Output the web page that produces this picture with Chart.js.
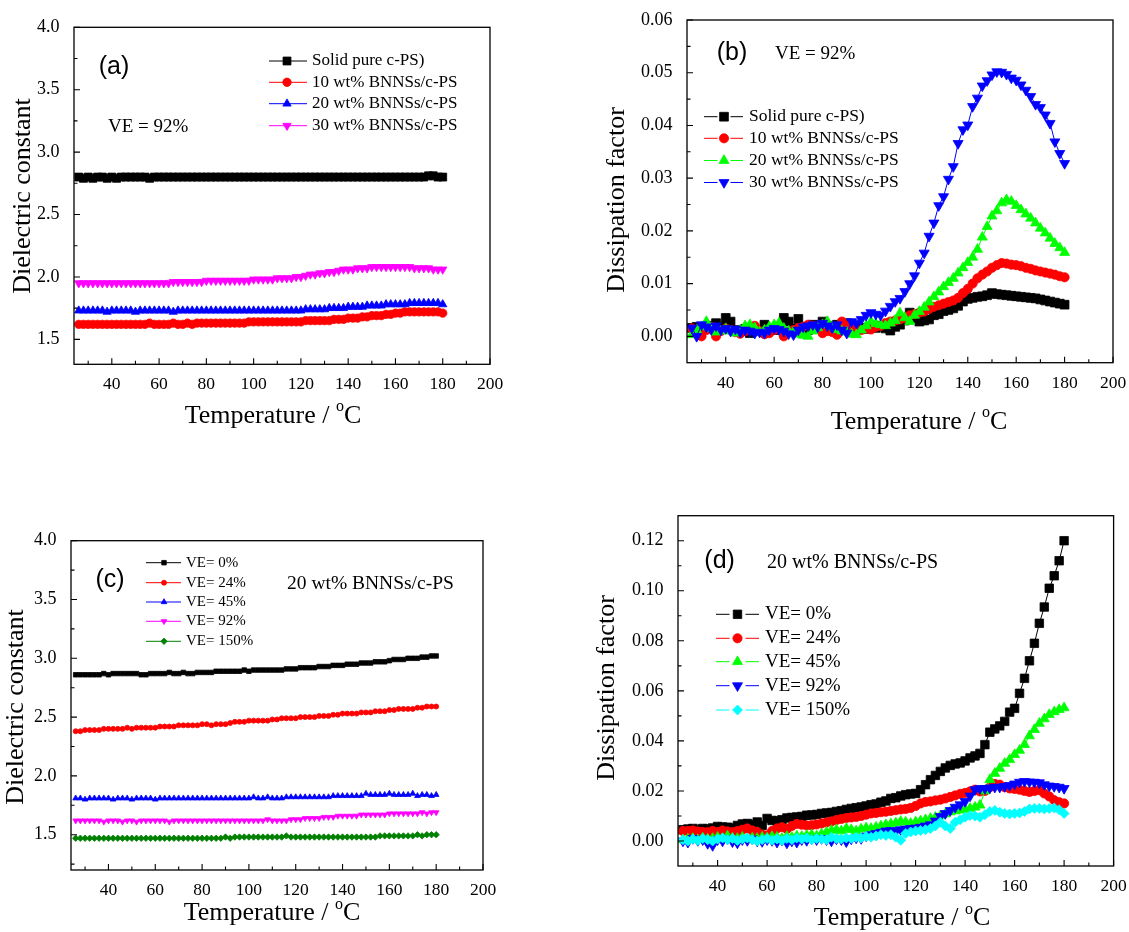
<!DOCTYPE html>
<html lang="en">
<head>
<meta charset="utf-8">
<title>Dielectric constant and dissipation factor vs temperature</title>
<script src="https://cdn.jsdelivr.net/npm/chart.js@4.4.1/dist/chart.umd.min.js"></script>
<style>
html,body{margin:0;padding:0;background:#ffffff;}
#page{position:relative;width:1129px;height:932px;overflow:hidden;background:#fff;}
#page canvas{position:absolute;display:block;}
</style>
</head>
<body>
<div id="page">
<canvas id="panelA"></canvas>
<canvas id="panelB"></canvas>
<canvas id="panelC"></canvas>
<canvas id="panelD"></canvas>
</div>
<script>
// ---------- categories (temperature, °C) ----------
const temperatures = [26,28,30,32,34,36,38,40,42,44,46,48,50,52,54,56,58,60,62,64,
  66,68,70,72,74,76,78,80,82,84,86,88,90,92,94,96,98,100,102,104,
  106,108,110,112,114,116,118,120,122,124,126,128,130,132,134,136,138,140,142,144,
  146,148,150,152,154,156,158,160,162,164,166,168,170,172,174,176,178,180];

// ---------- tick labels ----------
const tempTicks = [40,60,80,100,120,140,160,180,200];
const tempMinor = [30,50,70,90,110,130,150,170,190];
const dielTicksA = [1.5,2.0,2.5,3.0,3.5,4.0];
const dielMinorA = [1.75,2.25,2.75,3.25,3.75];
const dissTicksB = [0.00,0.01,0.02,0.03,0.04,0.05,0.06];
const dissMinorB = [0.005,0.015,0.025,0.035,0.045,0.055];
const dielTicksC = [1.5,2.0,2.5,3.0,3.5,4.0];
const dielMinorC = [1.25,1.75,2.25,2.75,3.25,3.75];
const dissTicksD = [0.00,0.02,0.04,0.06,0.08,0.10,0.12];
const dissMinorD = [0.01,0.03,0.05,0.07,0.09,0.11];

// ---------- panel (a): dielectric constant, VE = 92% ----------
const aSolidPure = [2.80,2.79,2.80,2.79,2.80,2.80,2.79,2.80,2.79,2.80,
  2.80,2.80,2.80,2.80,2.80,2.79,2.80,2.80,2.80,2.80,
  2.80,2.80,2.80,2.80,2.80,2.80,2.80,2.80,2.80,2.80,
  2.80,2.80,2.80,2.80,2.80,2.80,2.80,2.80,2.80,2.80,
  2.80,2.80,2.80,2.80,2.80,2.80,2.80,2.80,2.80,2.80,
  2.80,2.80,2.80,2.80,2.80,2.80,2.80,2.80,2.80,2.80,
  2.80,2.80,2.80,2.80,2.80,2.80,2.80,2.80,2.80,2.80,
  2.80,2.80,2.80,2.80,2.81,2.81,2.80,2.80];
const a10wt = [1.62,1.62,1.62,1.62,1.62,1.62,1.62,1.62,1.62,1.62,
  1.62,1.62,1.62,1.62,1.62,1.63,1.62,1.62,1.62,1.62,
  1.63,1.62,1.62,1.63,1.62,1.63,1.63,1.63,1.63,1.63,
  1.63,1.63,1.63,1.63,1.63,1.63,1.64,1.64,1.64,1.64,
  1.64,1.64,1.64,1.64,1.64,1.64,1.64,1.64,1.65,1.65,
  1.65,1.65,1.65,1.65,1.66,1.66,1.66,1.67,1.67,1.67,
  1.68,1.68,1.69,1.69,1.69,1.70,1.70,1.71,1.71,1.72,
  1.72,1.72,1.72,1.72,1.72,1.72,1.72,1.71];
const a20wt = [1.73,1.73,1.73,1.73,1.73,1.73,1.72,1.73,1.73,1.73,
  1.73,1.73,1.72,1.73,1.73,1.73,1.73,1.73,1.73,1.73,
  1.72,1.73,1.73,1.73,1.73,1.73,1.73,1.73,1.73,1.73,
  1.73,1.73,1.73,1.73,1.73,1.73,1.73,1.73,1.73,1.73,
  1.73,1.73,1.73,1.73,1.73,1.73,1.73,1.73,1.74,1.74,
  1.74,1.74,1.74,1.75,1.75,1.75,1.75,1.76,1.76,1.76,
  1.76,1.77,1.77,1.77,1.77,1.78,1.78,1.78,1.78,1.78,
  1.79,1.79,1.79,1.79,1.79,1.79,1.79,1.78];
const a30wt = [1.95,1.95,1.95,1.95,1.95,1.95,1.95,1.95,1.95,1.95,
  1.95,1.95,1.95,1.95,1.95,1.95,1.95,1.95,1.95,1.95,
  1.96,1.96,1.96,1.96,1.96,1.96,1.96,1.97,1.97,1.97,
  1.97,1.97,1.97,1.97,1.97,1.97,1.97,1.98,1.98,1.98,
  1.98,1.98,1.99,1.99,1.99,1.99,2.00,2.00,2.01,2.02,
  2.02,2.03,2.03,2.04,2.04,2.05,2.06,2.06,2.06,2.07,
  2.07,2.07,2.08,2.08,2.08,2.08,2.08,2.08,2.08,2.08,
  2.08,2.07,2.07,2.07,2.07,2.06,2.06,2.06];

// ---------- panel (b): dissipation factor, VE = 92% ----------
const bSolidPure = [0.0016,0.0018,0.0012,0.0015,0.0020,0.0025,0.0018,0.0035,0.0028,0.0012,
  0.0010,0.0014,0.0006,0.0012,0.0010,0.0022,0.0015,0.0012,0.0018,0.0035,
  0.0028,0.0015,0.0033,0.0018,0.0012,0.0022,0.0016,0.0028,0.0020,0.0015,
  0.0022,0.0018,0.0025,0.0020,0.0015,0.0016,0.0014,0.0018,0.0016,0.0020,
  0.0015,0.0011,0.0018,0.0022,0.0030,0.0045,0.0035,0.0028,0.0030,0.0032,
  0.0040,0.0042,0.0048,0.0050,0.0053,0.0058,0.0066,0.0071,0.0073,0.0075,
  0.0076,0.0078,0.0082,0.0080,0.0079,0.0078,0.0077,0.0076,0.0075,0.0074,
  0.0073,0.0072,0.0070,0.0068,0.0066,0.0064,0.0062,0.0060];
const b10wt = [0.0015,0.0008,0.0000,0.0012,0.0018,0.0000,0.0010,0.0015,0.0012,0.0008,
  0.0005,0.0010,0.0016,0.0020,0.0010,0.0004,0.0006,0.0012,0.0015,0.0000,
  0.0008,0.0012,0.0016,0.0018,0.0022,0.0020,0.0015,0.0006,0.0010,0.0008,
  0.0003,0.0028,0.0020,0.0016,0.0010,0.0012,0.0015,0.0013,0.0018,0.0020,
  0.0025,0.0028,0.0030,0.0032,0.0035,0.0040,0.0042,0.0045,0.0047,0.0052,
  0.0056,0.0059,0.0062,0.0065,0.0068,0.0073,0.0082,0.0090,0.0100,0.0110,
  0.0117,0.0123,0.0130,0.0135,0.0139,0.0138,0.0136,0.0135,0.0133,0.0130,
  0.0128,0.0125,0.0123,0.0121,0.0119,0.0117,0.0114,0.0112];
const b20wt = [0.0003,0.0012,0.0018,0.0028,0.0015,0.0008,0.0010,0.0014,0.0010,0.0006,
  0.0012,0.0020,0.0022,0.0016,0.0008,0.0012,0.0018,0.0022,0.0025,0.0015,
  0.0010,0.0008,0.0004,0.0002,0.0000,0.0010,0.0016,0.0022,0.0028,0.0018,
  0.0013,0.0010,0.0008,0.0004,0.0003,0.0012,0.0020,0.0028,0.0024,0.0022,
  0.0020,0.0025,0.0030,0.0044,0.0035,0.0028,0.0040,0.0047,0.0055,0.0065,
  0.0075,0.0084,0.0094,0.0102,0.0110,0.0120,0.0130,0.0140,0.0150,0.0165,
  0.0188,0.0208,0.0228,0.0238,0.0253,0.0259,0.0256,0.0248,0.0240,0.0232,
  0.0224,0.0215,0.0205,0.0196,0.0186,0.0176,0.0168,0.0159];
const b30wt = [0.0016,0.0000,0.0022,0.0018,0.0013,0.0020,0.0012,0.0015,0.0010,0.0014,
  0.0008,0.0012,0.0010,0.0006,0.0008,0.0006,0.0012,0.0015,0.0013,0.0010,
  0.0005,0.0003,0.0012,0.0018,0.0020,0.0022,0.0018,0.0025,0.0020,0.0016,
  0.0022,0.0012,0.0006,0.0028,0.0025,0.0032,0.0040,0.0045,0.0042,0.0040,
  0.0048,0.0057,0.0066,0.0072,0.0085,0.0100,0.0115,0.0139,0.0158,0.0190,
  0.0215,0.0248,0.0265,0.0298,0.0322,0.0366,0.0392,0.0401,0.0436,0.0452,
  0.0475,0.0485,0.0496,0.0502,0.0501,0.0497,0.0490,0.0486,0.0477,0.0467,
  0.0455,0.0440,0.0434,0.0420,0.0404,0.0369,0.0347,0.0328];

// ---------- panel (c): dielectric constant, 20 wt% BNNSs/c-PS ----------
const cVE0 = [2.86,2.86,2.86,2.86,2.86,2.86,2.87,2.86,2.87,2.87,
  2.87,2.87,2.87,2.87,2.86,2.86,2.87,2.87,2.87,2.87,
  2.88,2.87,2.87,2.88,2.87,2.87,2.88,2.88,2.88,2.88,
  2.89,2.89,2.89,2.89,2.89,2.89,2.90,2.89,2.90,2.90,
  2.90,2.90,2.90,2.90,2.90,2.91,2.91,2.91,2.92,2.92,
  2.92,2.92,2.93,2.93,2.93,2.94,2.94,2.94,2.95,2.95,
  2.95,2.96,2.96,2.96,2.97,2.97,2.97,2.98,2.99,2.99,
  2.99,3.00,3.00,3.00,3.01,3.01,3.02,3.02];
const cVE24 = [2.38,2.38,2.39,2.39,2.39,2.39,2.40,2.40,2.40,2.40,
  2.40,2.41,2.40,2.41,2.41,2.41,2.41,2.41,2.42,2.42,
  2.42,2.42,2.43,2.43,2.43,2.43,2.43,2.44,2.44,2.43,
  2.44,2.44,2.44,2.45,2.46,2.46,2.46,2.47,2.47,2.47,
  2.47,2.47,2.48,2.48,2.49,2.49,2.49,2.49,2.50,2.50,
  2.50,2.50,2.51,2.51,2.51,2.52,2.52,2.53,2.53,2.53,
  2.53,2.54,2.54,2.54,2.55,2.55,2.55,2.56,2.56,2.57,
  2.57,2.57,2.57,2.58,2.58,2.59,2.59,2.59];
const cVE45 = [1.81,1.81,1.80,1.81,1.81,1.81,1.81,1.81,1.80,1.81,
  1.81,1.81,1.80,1.81,1.81,1.81,1.81,1.80,1.81,1.81,
  1.81,1.81,1.81,1.81,1.81,1.81,1.81,1.81,1.81,1.81,
  1.81,1.81,1.81,1.81,1.81,1.81,1.81,1.81,1.82,1.81,
  1.81,1.82,1.81,1.81,1.81,1.82,1.82,1.82,1.82,1.82,
  1.82,1.82,1.82,1.82,1.82,1.83,1.83,1.83,1.83,1.83,
  1.83,1.83,1.85,1.84,1.84,1.84,1.84,1.85,1.84,1.84,
  1.84,1.84,1.85,1.83,1.84,1.84,1.83,1.84];
const cVE92 = [1.62,1.62,1.62,1.62,1.62,1.62,1.61,1.62,1.62,1.62,
  1.61,1.62,1.62,1.61,1.62,1.62,1.62,1.62,1.62,1.62,
  1.61,1.62,1.62,1.62,1.62,1.62,1.62,1.62,1.62,1.62,
  1.62,1.62,1.62,1.62,1.62,1.62,1.62,1.62,1.62,1.62,
  1.62,1.63,1.62,1.62,1.62,1.62,1.63,1.63,1.63,1.64,
  1.64,1.64,1.64,1.65,1.65,1.65,1.66,1.66,1.66,1.66,
  1.66,1.67,1.67,1.67,1.67,1.67,1.67,1.68,1.68,1.68,
  1.68,1.68,1.68,1.68,1.69,1.68,1.69,1.69];
const cVE150 = [1.47,1.47,1.47,1.47,1.47,1.47,1.47,1.47,1.47,1.47,
  1.47,1.47,1.47,1.47,1.47,1.47,1.47,1.47,1.47,1.47,
  1.47,1.47,1.47,1.47,1.47,1.47,1.47,1.47,1.47,1.47,
  1.47,1.47,1.48,1.47,1.48,1.48,1.48,1.48,1.48,1.48,
  1.48,1.48,1.48,1.48,1.48,1.49,1.48,1.48,1.48,1.48,
  1.48,1.48,1.48,1.48,1.48,1.48,1.48,1.48,1.48,1.48,
  1.48,1.48,1.48,1.48,1.48,1.49,1.49,1.49,1.49,1.49,
  1.49,1.49,1.49,1.50,1.49,1.50,1.50,1.50];

// ---------- panel (d): dissipation factor, 20 wt% BNNSs/c-PS ----------
const dVE0 = [0.0045,0.0048,0.0050,0.0046,0.0050,0.0048,0.0052,0.0058,0.0056,0.0055,
  0.0052,0.0062,0.0068,0.0070,0.0066,0.0076,0.0062,0.0090,0.0082,0.0080,
  0.0085,0.0092,0.0094,0.0096,0.0098,0.0103,0.0104,0.0106,0.0110,0.0112,
  0.0114,0.0118,0.0121,0.0126,0.0130,0.0133,0.0136,0.0140,0.0145,0.0148,
  0.0155,0.0160,0.0170,0.0173,0.0180,0.0185,0.0188,0.0190,0.0205,0.0225,
  0.0245,0.0262,0.0278,0.0292,0.0302,0.0308,0.0312,0.0320,0.0332,0.0340,
  0.0350,0.0385,0.0435,0.0448,0.0460,0.0478,0.0515,0.0530,0.0590,0.0650,
  0.0720,0.0790,0.0870,0.0935,0.1010,0.1060,0.1120,0.1200];
const dVE24 = [0.0040,0.0040,0.0042,0.0038,0.0036,0.0035,0.0040,0.0036,0.0042,0.0038,
  0.0035,0.0040,0.0045,0.0050,0.0042,0.0036,0.0025,0.0022,0.0040,0.0050,
  0.0055,0.0048,0.0060,0.0068,0.0065,0.0062,0.0063,0.0066,0.0070,0.0074,
  0.0078,0.0084,0.0088,0.0092,0.0094,0.0096,0.0100,0.0105,0.0110,0.0112,
  0.0115,0.0117,0.0120,0.0123,0.0126,0.0128,0.0132,0.0140,0.0150,0.0156,
  0.0158,0.0162,0.0165,0.0170,0.0176,0.0182,0.0188,0.0192,0.0198,0.0205,
  0.0198,0.0200,0.0215,0.0228,0.0225,0.0215,0.0210,0.0208,0.0205,0.0200,
  0.0196,0.0200,0.0203,0.0190,0.0178,0.0163,0.0155,0.0150];
const dVE45 = [0.0005,0.0008,0.0010,0.0005,0.0012,0.0008,0.0010,0.0015,0.0010,0.0020,
  0.0012,0.0010,0.0015,0.0008,0.0012,0.0010,0.0015,0.0012,0.0018,0.0015,
  0.0010,0.0018,0.0015,0.0020,0.0018,0.0022,0.0025,0.0020,0.0028,0.0035,
  0.0042,0.0045,0.0040,0.0050,0.0045,0.0040,0.0048,0.0052,0.0050,0.0055,
  0.0060,0.0065,0.0068,0.0072,0.0078,0.0075,0.0070,0.0076,0.0080,0.0085,
  0.0090,0.0095,0.0100,0.0108,0.0116,0.0120,0.0123,0.0126,0.0130,0.0135,
  0.0143,0.0200,0.0245,0.0270,0.0290,0.0310,0.0325,0.0345,0.0362,0.0385,
  0.0420,0.0445,0.0470,0.0488,0.0505,0.0516,0.0525,0.0532];
const dVE92 = [0.0000,-0.0005,0.0010,0.0002,0.0005,-0.0010,-0.0018,0.0005,0.0000,0.0008,
  -0.0003,-0.0008,0.0005,0.0002,0.0008,0.0000,-0.0002,0.0005,0.0002,-0.0005,
  0.0003,-0.0008,0.0000,-0.0005,0.0005,0.0002,0.0008,0.0005,0.0010,0.0005,
  0.0000,0.0008,0.0005,-0.0003,0.0008,0.0012,0.0010,0.0020,0.0025,0.0030,
  0.0035,0.0040,0.0042,0.0038,0.0045,0.0048,0.0050,0.0052,0.0055,0.0060,
  0.0065,0.0080,0.0098,0.0110,0.0122,0.0135,0.0145,0.0158,0.0180,0.0205,
  0.0210,0.0210,0.0212,0.0215,0.0215,0.0218,0.0222,0.0228,0.0235,0.0238,
  0.0236,0.0235,0.0233,0.0225,0.0220,0.0218,0.0215,0.0210];
const dVE150 = [0.0005,0.0000,0.0008,0.0002,0.0010,0.0005,0.0000,0.0008,0.0012,0.0005,
  0.0010,0.0002,0.0008,0.0012,0.0005,0.0000,0.0005,0.0010,0.0003,0.0008,
  0.0002,0.0010,0.0005,0.0012,0.0008,0.0012,0.0005,0.0010,0.0008,0.0005,
  0.0015,0.0010,0.0008,0.0012,0.0010,0.0015,0.0012,0.0018,0.0015,0.0020,
  0.0025,0.0022,0.0025,0.0015,0.0003,0.0030,0.0036,0.0040,0.0042,0.0045,
  0.0050,0.0060,0.0075,0.0060,0.0050,0.0075,0.0085,0.0095,0.0102,0.0100,
  0.0095,0.0105,0.0118,0.0122,0.0115,0.0110,0.0108,0.0110,0.0112,0.0118,
  0.0128,0.0130,0.0130,0.0128,0.0130,0.0132,0.0125,0.0110];

// ---------- layout / styling ----------
const SERIF = '"Liberation Serif", "Times New Roman", Times, serif';
const SANS = '"Liberation Sans", Arial, Helvetica, sans-serif';

const panels = [
  {
    canvas: 'panelA', box: [0, 0, 564, 466], area: [74, 27.3, 490, 364.3],
    yMin: 1.3, yMax: 4.0, yMajor: dielTicksA, yMinor: dielMinorA, yDigits: 1, xPad: 1.5,
    series: [
      {name: 'Solid pure c-PS)', values: aSolidPure, color: '#000000', shape: 'rect', r: 5.6},
      {name: '10 wt% BNNSs/c-PS', values: a10wt, color: '#ff0000', shape: 'circle', r: 4.2},
      {name: '20 wt% BNNSs/c-PS', values: a20wt, color: '#0000ff', shape: 'triangle', r: 4.8},
      {name: '30 wt% BNNSs/c-PS', values: a30wt, color: '#ff00ff', shape: 'triangle', rot: 180, r: 4.8}
    ],
    yTitle: {text: 'Dielectric constant', x: 23, y: 196},
    xTitle: {x: 273, y: 416},
    letter: {text: '(a)', x: 114, y: 67.5},
    note: {text: 'VE = 92%', x: 108, y: 127, size: 19},
    legend: {x1: 269, x2: 307, mx: 287, tx: 312, rows: [61, 82.3, 103.7, 125.7], size: 17, gap: 0}
  },
  {
    canvas: 'panelB', box: [564, 0, 565, 466], area: [687, 20, 1113, 362.7],
    yMin: -0.005, yMax: 0.06, yMajor: dissTicksB, yMinor: dissMinorB, yDigits: 2, xPad: 2,
    series: [
      {name: 'Solid pure c-PS)', values: bSolidPure, color: '#000000', shape: 'rect', r: 6.2},
      {name: '10 wt% BNNSs/c-PS', values: b10wt, color: '#ff0000', shape: 'circle', r: 4.6},
      {name: '20 wt% BNNSs/c-PS', values: b20wt, color: '#00ff00', shape: 'triangle', r: 5.8},
      {name: '30 wt% BNNSs/c-PS', values: b30wt, color: '#0000ff', shape: 'triangle', rot: 180, r: 5.8}
    ],
    yTitle: {text: 'Dissipation factor', x: 617, y: 200},
    xTitle: {x: 919, y: 422},
    letter: {text: '(b)', x: 732, y: 53.3},
    note: {text: 'VE = 92%', x: 775, y: 54.2, size: 19},
    legend: {x1: 704, x2: 743, mx: 724, tx: 749, rows: [116.7, 138.3, 160.5, 182.5], size: 17.5, gap: 6.5}
  },
  {
    canvas: 'panelC', box: [0, 466, 564, 466], area: [71, 540.7, 483, 870],
    yMin: 1.2, yMax: 4.0, yMajor: dielTicksC, yMinor: dielMinorC, yDigits: 1, xPad: 1.5,
    series: [
      {name: 'VE= 0%', values: cVE0, color: '#000000', shape: 'rect', r: 3.2},
      {name: 'VE= 24%', values: cVE24, color: '#ff0000', shape: 'circle', r: 2.5},
      {name: 'VE= 45%', values: cVE45, color: '#0000ff', shape: 'triangle', r: 3.3},
      {name: 'VE= 92%', values: cVE92, color: '#ff00ff', shape: 'triangle', rot: 180, r: 3.3},
      {name: 'VE= 150%', values: cVE150, color: '#008000', shape: 'rectRot', r: 3.2}
    ],
    yTitle: {text: 'Dielectric constant', x: 16.5, y: 707},
    xTitle: {x: 272, y: 913.5},
    letter: {text: '(c)', x: 110, y: 580},
    note: {text: '20 wt% BNNSs/c-PS', x: 287, y: 584.2, size: 19.5},
    legend: {x1: 146, x2: 181, mx: 164, tx: 186, rows: [562.7, 582.7, 602, 621.3, 641.3], size: 15, gap: 0}
  },
  {
    canvas: 'panelD', box: [564, 466, 565, 466], area: [678, 515.7, 1113.6, 866],
    yMin: -0.01, yMax: 0.13, yMajor: dissTicksD, yMinor: dissMinorD, yDigits: 2, xPad: 2,
    series: [
      {name: 'VE= 0%', values: dVE0, color: '#000000', shape: 'rect', r: 6},
      {name: 'VE= 24%', values: dVE24, color: '#ff0000', shape: 'circle', r: 4.6},
      {name: 'VE= 45%', values: dVE45, color: '#00ff00', shape: 'triangle', r: 5.8},
      {name: 'VE= 92%', values: dVE92, color: '#0000ff', shape: 'triangle', rot: 180, r: 5.8},
      {name: 'VE= 150%', values: dVE150, color: '#00ffff', shape: 'rectRot', r: 5}
    ],
    yTitle: {text: 'Dissipation factor', x: 607, y: 688},
    xTitle: {x: 902, y: 918.5},
    letter: {text: '(d)', x: 719.6, y: 560.8},
    note: {text: '20 wt% BNNSs/c-PS', x: 767, y: 562.5, size: 20},
    legend: {x1: 716, x2: 759, mx: 737.5, tx: 765, rows: [614.3, 638.3, 661.7, 685.7, 710], size: 19, gap: 8}
  }
];

function drawMarker(ctx, shape, rot, x, y, r, color) {
  ctx.save();
  ctx.translate(x, y);
  if (rot) ctx.rotate(rot * Math.PI / 180);
  ctx.beginPath();
  if (shape === 'rect') {
    const s = r * Math.SQRT1_2;
    ctx.rect(-s, -s, 2 * s, 2 * s);
  } else if (shape === 'circle') {
    ctx.arc(0, 0, r, 0, Math.PI * 2);
  } else if (shape === 'triangle') {
    ctx.moveTo(0, -r);
    ctx.lineTo(r * 0.866, r * 0.5);
    ctx.lineTo(-r * 0.866, r * 0.5);
    ctx.closePath();
  } else if (shape === 'rectRot') {
    ctx.moveTo(0, -r); ctx.lineTo(r, 0); ctx.lineTo(0, r); ctx.lineTo(-r, 0);
    ctx.closePath();
  }
  ctx.fillStyle = color; ctx.fill();
  ctx.strokeStyle = color; ctx.lineWidth = 0.8; ctx.stroke();
  ctx.restore();
}

function makePanel(p) {
  const cv = document.getElementById(p.canvas);
  const [ox, oy, cw, ch] = p.box;
  cv.width = cw; cv.height = ch;
  cv.style.left = ox + 'px'; cv.style.top = oy + 'px';
  cv.style.width = cw + 'px'; cv.style.height = ch + 'px';
  const [L, T, R, B] = p.area;
  const W = L - ox, H = 60;
  const pad = {left: 0, top: T - oy, right: ox + cw - R, bottom: oy + ch - B - H};

  const datasets = p.series.map((s, i) => ({
    label: s.name,
    data: temperatures.map((t, k) => ({x: t, y: s.values[k]})),
    borderColor: s.color,
    backgroundColor: s.color,
    borderWidth: 1,
    pointStyle: s.shape,
    pointRotation: s.rot || 0,
    pointRadius: s.r,
    pointHoverRadius: s.r,
    pointBackgroundColor: s.color,
    pointBorderColor: s.color,
    pointBorderWidth: 0.8,
    showLine: true,
    tension: 0,
    fill: false,
    order: p.series.length - i
  }));

  const deco = {
    id: 'deco',
    afterDatasetsDraw(chart) {
      const ctx = chart.ctx, a = chart.chartArea;
      const xs = chart.scales.x, ys = chart.scales.y;
      ctx.save();
      // frame
      ctx.strokeStyle = '#000'; ctx.lineWidth = 1.3;
      ctx.strokeRect(a.left, a.top, a.right - a.left, a.bottom - a.top);
      // inward ticks
      ctx.lineWidth = 1.1;
      ctx.beginPath();
      tempTicks.forEach(v => { const x = xs.getPixelForValue(v); ctx.moveTo(x, a.bottom); ctx.lineTo(x, a.bottom - 6); });
      tempMinor.forEach(v => { const x = xs.getPixelForValue(v); ctx.moveTo(x, a.bottom); ctx.lineTo(x, a.bottom - 3.5); });
      p.yMajor.forEach(v => { const y = ys.getPixelForValue(v); ctx.moveTo(a.left, y); ctx.lineTo(a.left + 6, y); });
      p.yMinor.forEach(v => { const y = ys.getPixelForValue(v); ctx.moveTo(a.left, y); ctx.lineTo(a.left + 3.5, y); });
      ctx.stroke();

      ctx.fillStyle = '#000';
      ctx.textBaseline = 'middle';
      // y title
      ctx.save();
      ctx.translate(p.yTitle.x - ox, p.yTitle.y - oy);
      ctx.rotate(-Math.PI / 2);
      ctx.font = '26px ' + SERIF;
      ctx.textAlign = 'center';
      ctx.fillText(p.yTitle.text, 0, 0);
      ctx.restore();
      // x title with superscript o
      ctx.font = '26px ' + SERIF;
      const part1 = 'Temperature / ', part3 = 'C';
      const w1 = ctx.measureText(part1).width, w3 = ctx.measureText(part3).width;
      ctx.font = '16px ' + SERIF;
      const w2 = ctx.measureText('o').width;
      let x0 = p.xTitle.x - ox - (w1 + w2 + w3) / 2;
      const yT = p.xTitle.y - oy;
      ctx.textAlign = 'left';
      ctx.font = '26px ' + SERIF;
      ctx.fillText(part1, x0, yT);
      ctx.font = '16px ' + SERIF;
      ctx.fillText('o', x0 + w1, yT - 9);
      ctx.font = '26px ' + SERIF;
      ctx.fillText(part3, x0 + w1 + w2, yT);
      // panel letter
      ctx.font = '25px ' + SANS;
      ctx.textAlign = 'center';
      ctx.fillText(p.letter.text, p.letter.x - ox, p.letter.y - oy);
      // note
      ctx.font = p.note.size + 'px ' + SERIF;
      ctx.textAlign = 'left';
      ctx.fillText(p.note.text, p.note.x - ox, p.note.y - oy);
      // legend
      const lg = p.legend;
      p.series.forEach((s, i) => {
        const y = lg.rows[i] - oy;
        ctx.strokeStyle = s.color; ctx.lineWidth = 1;
        ctx.beginPath();
        if (lg.gap > 0) {
          ctx.moveTo(lg.x1 - ox, y); ctx.lineTo(lg.mx - lg.gap - ox, y);
          ctx.moveTo(lg.mx + lg.gap - ox, y); ctx.lineTo(lg.x2 - ox, y);
        } else {
          ctx.moveTo(lg.x1 - ox, y); ctx.lineTo(lg.x2 - ox, y);
        }
        ctx.stroke();
        drawMarker(ctx, s.shape, s.rot || 0, lg.mx - ox, y, s.r, s.color);
        ctx.fillStyle = '#000';
        ctx.font = lg.size + 'px ' + SERIF;
        ctx.textAlign = 'left';
        ctx.fillText(s.name, lg.tx - ox, y);
      });
      ctx.restore();
    }
  };

  return new Chart(cv, {
    type: 'line',
    data: {datasets},
    plugins: [deco],
    options: {
      responsive: false,
      maintainAspectRatio: false,
      animation: false,
      devicePixelRatio: 1,
      events: [],
      layout: {padding: pad},
      plugins: {legend: {display: false}, tooltip: {enabled: false}, title: {display: false}},
      scales: {
        x: {
          type: 'linear', position: 'bottom', min: 24, max: 200,
          afterBuildTicks: sc => { sc.ticks = tempTicks.map(v => ({value: v})); },
          afterFit: sc => { sc.height = H; },
          grid: {display: false}, border: {display: false},
          ticks: {autoSkip: false, maxRotation: 0, minRotation: 0, padding: p.xPad, color: '#000',
            font: {family: SERIF, size: 17.5}, callback: v => String(v)}
        },
        y: {
          type: 'linear', position: 'left', min: p.yMin, max: p.yMax,
          afterBuildTicks: sc => { sc.ticks = p.yMajor.map(v => ({value: v})); },
          afterFit: sc => { sc.width = W; },
          grid: {display: false}, border: {display: false},
          ticks: {autoSkip: false, padding: 6.5, color: '#000',
            font: {family: SERIF, size: 18}, callback: v => Number(v).toFixed(p.yDigits)}
        }
      }
    }
  });
}

panels.forEach(makePanel);
</script>
</body>
</html>
